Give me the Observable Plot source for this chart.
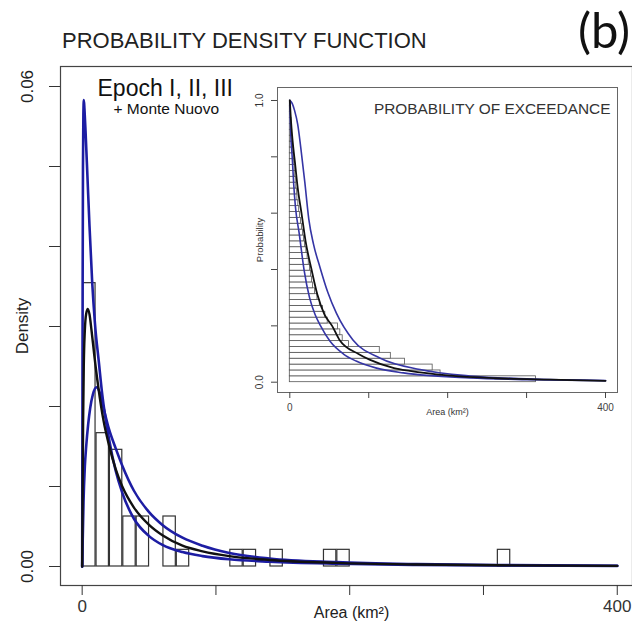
<!DOCTYPE html>
<html>
<head>
<meta charset="utf-8">
<script src="https://cdn.jsdelivr.net/npm/d3@7"></script>
<script src="https://cdn.jsdelivr.net/npm/@observablehq/plot@0.6"></script>
<style>
  body { margin: 0; background: #fff; }
  #page { position: relative; width: 632px; height: 623px; overflow: hidden; font-family: "Liberation Sans", Arial, sans-serif; background: #fff; }
  #header { position: relative; height: 60px; }
  #title { position: absolute; left: 62px; top: 30px; font-size: 22px; line-height: 1; color: #222; white-space: nowrap; }
  #tag { position: absolute; left: 578px; top: 5px; font-size: 49px; line-height: 1; font-family: Lato, "Open Sans", sans-serif; color: #111; white-space: nowrap; }
  #main svg { display: block; color: #333; }
  #inset { position: absolute; left: 240px; top: 80px; }
  #inset svg { display: block; color: #444; background: #fff; }
</style>
</head>
<body>
<div id="page">
  <div id="header">
    <div id="title">PROBABILITY DENSITY FUNCTION</div>
    <div id="tag">(b)</div>
  </div>
  <div id="main"></div>
  <div id="inset"></div>
</div>
<script>
// ---- Data ----
// Eruption areas (km²), estimated from the histogram bins and the exceedance staircase
const areas = [
  0.8, 1.2, 1.6, 2.0, 2.5, 3.0, 3.4, 3.9, 4.5, 5.0, 5.6, 6.2, 6.9, 7.5, 8.2, 8.9, 9.6,
  10.8, 11.9, 13.0, 14.2, 15.5, 16.8, 18.0, 19.2,
  21.0, 22.5, 24.0, 25.5, 26.8, 28.0, 29.3,
  32, 35, 38,
  42, 45, 48,
  61, 64, 67,
  75,
  114, 128, 146, 181, 191, 312
];
const binWidth = 10;
const binEdges = [0,10,20,30,40,50,60,70,80,90,100,110,120,130,140,150,160,170,180,190,200,210,220,230,240,250,260,270,280,290,300,310,320,330];

// Density curves [area, density]
const pdfFit = [[0,0],[0.3,0.008],[0.7,0.018],[1.2,0.025],[2,0.0295],[3,0.0316],[4.2,0.0322],[5.5,0.0315],[7,0.0295],[9,0.0265],[12,0.0225],[16,0.0182],[20,0.0152],[25,0.0122],[30,0.0100],[38.6,0.0074],[50,0.0052],[60,0.0039],[75,0.0026],[90,0.0019],[110,0.0013],[140,0.00082],[190,0.00045],[250,0.00025],[320,0.00014],[400,0.00008]];
const pdfBlueA = [[0,0],[0.15,0.015],[0.35,0.035],[0.6,0.05],[0.9,0.0565],[1.25,0.0583],[1.7,0.0572],[2.5,0.0545],[4,0.0485],[5.5,0.0425],[7.5,0.0355],[9.5,0.0305],[12.5,0.0255],[15,0.0215],[20,0.0160],[25,0.0120],[30,0.0092],[38.6,0.0060],[50,0.0038],[60,0.0027],[75,0.0018],[90,0.0013],[110,0.0009],[140,0.0006],[190,0.00035],[250,0.0002],[320,0.00012],[400,0.00007]];
const pdfBlueB = [[0,0],[0.5,0.004],[1,0.008],[2,0.0125],[3,0.015],[4.5,0.0178],[6,0.0198],[8,0.0215],[10.7,0.0224],[13,0.0218],[16,0.0198],[20,0.0172],[25,0.0148],[30,0.0126],[38.6,0.0095],[50,0.0068],[60,0.0052],[75,0.0036],[90,0.0026],[110,0.0017],[140,0.001],[190,0.00055],[250,0.0003],[320,0.00017],[400,0.0001]];

// Exceedance curves [area, probability]
const exFit = [[0,1],[1,0.95],[2.5,0.89],[4.5,0.83],[6.5,0.78],[10,0.69],[14.8,0.6],[20,0.5],[27.5,0.4],[35,0.31],[44,0.24],[53.6,0.2],[63,0.15],[87,0.1],[101,0.08],[132,0.05],[152,0.04],[200,0.024],[260,0.014],[330,0.009],[400,0.005]];
const exBlueHigh = [[0,1],[3,0.99],[6,0.965],[10,0.915],[14,0.83],[19,0.71],[24,0.58],[30,0.49],[38,0.41],[48,0.32],[59,0.245],[80,0.15],[114,0.086],[165,0.045],[228,0.022],[300,0.012],[400,0.006]];
const exBlueLow = [[0,1],[0.4,0.95],[1.2,0.88],[3,0.8],[5,0.7],[7.2,0.62],[11.8,0.53],[18,0.4],[25,0.3],[32,0.24],[39,0.2],[51,0.145],[68,0.1],[84,0.075],[110,0.05],[144,0.033],[228,0.015],[300,0.009],[400,0.005]];

// Ticks and labels
const mainXTicks = [0, 100, 200, 300, 400];
const mainXLabels = [0, 400];
const mainYTicks = [0, 0.01, 0.02, 0.03, 0.04, 0.05, 0.06];
const mainYLabels = [0, 0.06];
const insetYTicks = [0, 0.2, 0.4, 0.6, 0.8, 1.0];
const insetYLabels = [0, 1];

const BLUE = "#1d1da3";
const n = areas.length;

// ---- Main chart ----
const main = Plot.plot({
  width: 632,
  height: 563,
  marginTop: 6,
  marginBottom: 38,
  marginLeft: 60,
  marginRight: 0,
  style: { fontFamily: "Liberation Sans, Arial, sans-serif", fontSize: "17px", background: "transparent" },
  x: { domain: [-16.2, 411.4] },
  y: { domain: [-0.002375, 0.0625] },
  marks: [
    Plot.rectY(areas, Plot.binX(
      { y: (v) => v.length / (n * binWidth) },
      { x: (d) => d, thresholds: binEdges, fill: "white", stroke: "#333", strokeWidth: 1.2 }
    )),
    Plot.line(pdfBlueB, { x: (d) => d[0], y: (d) => d[1], curve: "monotone-x", stroke: BLUE, strokeWidth: 2.6 }),
    Plot.line(pdfBlueA, { x: (d) => d[0], y: (d) => d[1], curve: "monotone-x", stroke: BLUE, strokeWidth: 2.6 }),
    Plot.line(pdfFit, { x: (d) => d[0], y: (d) => d[1], curve: "monotone-x", stroke: "#111", strokeWidth: 2.4 }),
    Plot.frame({ stroke: "#444", strokeWidth: 1.2 }),
    Plot.axisX({ ticks: mainXTicks, tickSize: 10, tickPadding: 4, fontSize: 17, label: null,
      tickFormat: (d) => mainXLabels.includes(d) ? String(d) : "" }),
    Plot.axisY({ ticks: mainYTicks, tickSize: 11, label: null, tickFormat: () => "" }),
    Plot.text(mainYLabels, { y: (d) => d, text: (d) => d.toFixed(2), frameAnchor: "left", dx: -33, rotate: -90, textAnchor: "middle", fontSize: 17, fill: "#222" }),
    Plot.text(["Density"], { frameAnchor: "left", dx: -38, rotate: -90, textAnchor: "middle", fontSize: 17, fill: "#222" }),
    Plot.text(["Area (km²)"], { frameAnchor: "bottom", dx: 5, dy: 27, lineAnchor: "middle", fontSize: 16, fill: "#222" }),
    Plot.text(["Epoch I, II, III"], { frameAnchor: "top-left", dx: 37, dy: 22, textAnchor: "start", lineAnchor: "middle", fontSize: 23, fill: "#111" }),
    Plot.text(["+ Monte Nuovo"], { frameAnchor: "top-left", dx: 53, dy: 43, textAnchor: "start", lineAnchor: "middle", fontSize: 15.5, fill: "#111" })
  ]
});
document.getElementById("main").appendChild(main);

// ---- Inset: probability of exceedance ----
const sortedDesc = areas.slice().sort((a, b) => b - a);
const inset = Plot.plot({
  width: 385,
  height: 345,
  marginTop: 7,
  marginBottom: 33,
  marginLeft: 37,
  marginRight: 8,
  style: { fontFamily: "Liberation Sans, Arial, sans-serif", fontSize: "10px", background: "#fff" },
  x: { domain: [-15.6, 415.2] },
  y: { domain: [-0.0366, 1.0461] },
  marks: [
    Plot.rect(sortedDesc, { x1: () => 0, x2: (d) => d, y1: (d, i) => i / n, y2: (d, i) => (i + 1) / n,
      fill: "white", stroke: "#555", strokeWidth: 0.8 }),
    Plot.line(exBlueHigh, { x: (d) => d[0], y: (d) => d[1], curve: "monotone-x", stroke: "#3535a5", strokeWidth: 1.6 }),
    Plot.line(exBlueLow, { x: (d) => d[0], y: (d) => d[1], curve: "monotone-x", stroke: "#3535a5", strokeWidth: 1.6 }),
    Plot.line(exFit, { x: (d) => d[0], y: (d) => d[1], curve: "monotone-x", stroke: "#111", strokeWidth: 1.8 }),
    Plot.frame({ stroke: "#666", strokeWidth: 1 }),
    Plot.axisX({ ticks: mainXTicks, tickSize: 6, tickPadding: 5, fontSize: 10, label: null,
      tickFormat: (d) => mainXLabels.includes(d) ? String(d) : "" }),
    Plot.axisY({ ticks: insetYTicks, tickSize: 6, label: null, tickFormat: () => "" }),
    Plot.text(insetYLabels, { y: (d) => d, text: (d) => d.toFixed(1), frameAnchor: "left", dx: -18, rotate: -90, textAnchor: "middle", fontSize: 10, fill: "#333" }),
    Plot.text(["Probability"], { frameAnchor: "left", dx: -18, rotate: -90, textAnchor: "middle", fontSize: 9.5, fill: "#333" }),
    Plot.text(["Area (km²)"], { frameAnchor: "bottom", dy: 20, lineAnchor: "middle", fontSize: 9, fill: "#333" }),
    Plot.text(["PROBABILITY OF EXCEEDANCE"], { frameAnchor: "top-right", dx: -7, dy: 22, textAnchor: "end", lineAnchor: "middle", fontSize: 15.4, fill: "#333" })
  ]
});
document.getElementById("inset").appendChild(inset);
</script>
</body>
</html>
